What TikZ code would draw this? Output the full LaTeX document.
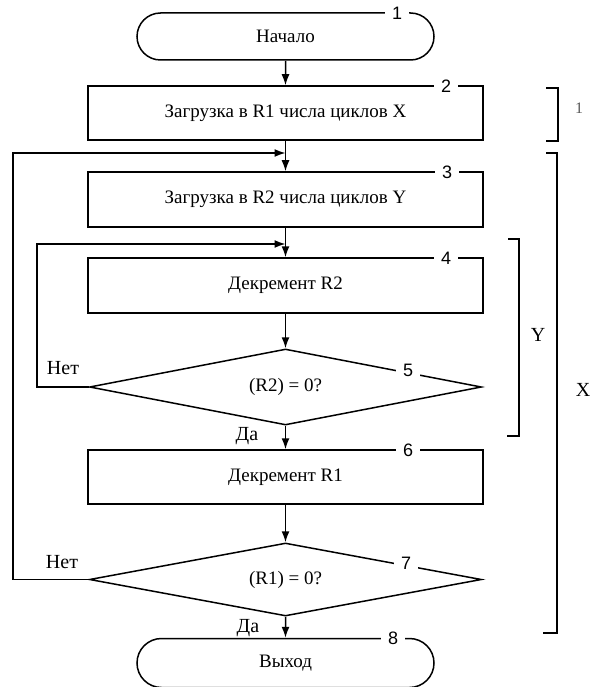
\documentclass[tikz,border=0pt]{standalone}
\usepackage{fontspec}
\setmainfont{Liberation Serif}
\newfontfamily\numfont{Liberation Sans}
\usetikzlibrary{shapes.geometric,shapes.misc,arrows.meta}
\begin{document}
\begin{tikzpicture}[x=1pt,y=-1pt,
  every node/.style={inner sep=0pt},
  txt/.style={font=\fontsize{19}{21}\selectfont},
  blk/.style={draw, line width=1.5pt, rectangle, minimum width=395pt, minimum height=54pt, txt},
  term/.style={draw, line width=1.5pt, rounded rectangle, minimum width=297pt, minimum height=47pt, txt},
  dec/.style={draw, line width=1.5pt, diamond, shape aspect=5, minimum width=392pt, minimum height=76pt, txt},
  num/.style={fill=white, inner xsep=7pt, inner ysep=0pt, font=\numfont\fontsize{18}{18}\selectfont},
  lbl/.style={font=\fontsize{20}{20}\selectfont},
  arr/.style={line width=1.5pt, -{Latex[length=11pt,width=8pt]}},
  ln/.style={line width=1.5pt},
]
\useasboundingbox (0,0) rectangle (593,687);
% blocks
\node[term] (t1) at (285.5,36.5) {Начало};
\node[blk] (b2) at (285.5,113) {Загрузка в R1 числа циклов X};
\node[blk, minimum height=55pt] (b3) at (285.5,199.5) {Загрузка в R2 числа циклов Y};
\node[blk, minimum height=55pt] (b4) at (285.5,285.5) {Декремент R2};
\node[dec] (d5) at (285.5,387) {\raisebox{-4pt}{(R2) = 0?}};
\node[blk] (b6) at (285.5,477) {Декремент R1};
\node[dec, minimum height=73pt] (d7) at (285.5,579.5) {\raisebox{-2pt}{(R1) = 0?}};
\node[term, minimum height=49pt] (t8) at (285.5,663) {Выход};
% junctions and loop corners
\coordinate (j3) at (285.5,153);
\coordinate (j4) at (285.5,244);
\coordinate (c5) at (37,387);
\coordinate (c7) at (13,579.5);
% vertical arrows
\draw[arr] (t1) -- (b2);
\draw[arr] (b2) -- (b3);
\draw[arr] (b3) -- (b4);
\draw[arr] (b4) -- (d5);
\draw[arr] (d5) -- (b6);
\draw[arr] (b6) -- (d7);
\draw[arr] (d7) -- (t8);
% loops
\draw[arr] (d5.west) -- (c5) |- (j4);
\draw[arr] (d7.west) -- (c7) |- (j3);
% numbers
\node[num] (n1) at (397,13) {1};
\node[num] (n2) at (446,86) {2};
\node[num] (n3) at (447,172) {3};
\node[num] (n4) at (446,258) {4};
\node[num] (n5) at (408,370) {5};
\node[num] (n6) at (408,450) {6};
\node[num] (n7) at (406,563) {7};
\node[num] (n8) at (393,638.5) {8};
% labels
\node[lbl] (no5) at (63,368) {Нет};
\node[lbl] (yes5) at (247,436) {Да};
\node[lbl] (no7) at (62,562) {Нет};
\node[lbl] (yes7) at (248,628) {Да};
% brackets
\coordinate (k1a) at (546,88);
\coordinate (k1b) at (546,141);
\draw[ln] (k1a) -- (558,88) -- (558,141) -- (k1b);
\coordinate (kYa) at (508,239);
\coordinate (kYb) at (507,436);
\draw[ln] (kYa) -- (519,239) -- (519,436) -- (kYb);
\coordinate (kXa) at (546,153);
\coordinate (kXb) at (543,633);
\draw[ln] (kXa) -- (557,153) -- (557,633) -- (kXb);
\node[font=\fontsize{16}{16}\selectfont, text=black!65] (l1) at (579,108) {1};
\node[lbl] (lY) at (538,335) {Y};
\node[lbl] (lX) at (583,390) {X};
\end{tikzpicture}
\end{document}
